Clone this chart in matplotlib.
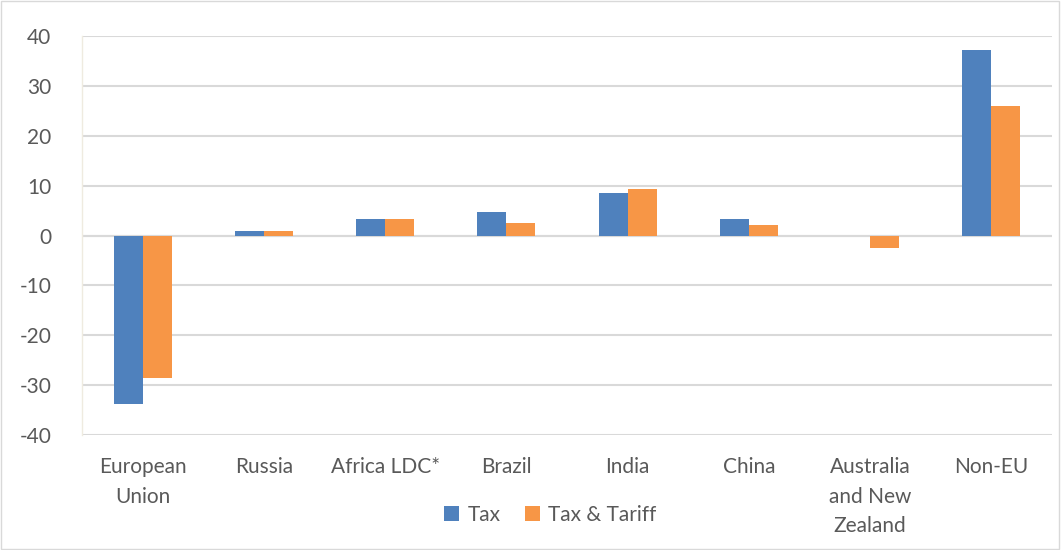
import matplotlib.pyplot as plt
import numpy as np

categories = ["European\nUnion", "Russia", "Africa LDC*", "Brazil", "India",
              "China", "Australia\nand New\nZealand", "Non-EU"]
tax = [-33.8, 1.0, 3.4, 4.7, 8.6, 3.4, 0.0, 37.1]
tax_tariff = [-28.6, 1.0, 3.4, 2.6, 9.4, 2.2, -2.5, 25.9]

plt.rcParams['font.family'] = ['Lato', 'DejaVu Sans']
plt.rcParams['axes.unicode_minus'] = False

fig = plt.figure(figsize=(10.61, 5.5), dpi=100)
ax = fig.add_axes([0.0773, 0.209, 0.9142, 0.7255])

x = np.arange(len(categories))
w = 0.24
ax.bar(x - w / 2, tax, w, color="#4f81bd", label="Tax", zorder=3)
ax.bar(x + w / 2, tax_tariff, w, color="#f79646", label="Tax & Tariff", zorder=3)

ax.set_xlim(-0.5, len(categories) - 0.5)
ax.set_ylim(-40, 40)
ax.set_yticks(range(-40, 41, 10))
ax.grid(axis="y", color="#d9d9d9", linewidth=1.5, zorder=0)
ax.axhline(0, color="#d9d9d9", linewidth=1.5, zorder=2)

for s in ["top", "right", "bottom"]:
    ax.spines[s].set_visible(False)
ax.spines["left"].set_color("#efebe0")
ax.spines["left"].set_linewidth(1.0)

ax.set_xticks(x)
ax.set_xticklabels(categories, linespacing=1.58, va="top")
ax.tick_params(axis="both", length=0, labelsize=15, colors="#595959")
ax.tick_params(axis="x", pad=16)
ax.tick_params(axis="y", pad=22)

ax.legend(loc="center", bbox_to_anchor=(0.483, -0.2), ncol=2, frameon=False,
          fontsize=15, handlelength=0.7, handleheight=0.7, columnspacing=1.2,
          handletextpad=0.4, labelcolor="#595959")

fig.patches.append(plt.Rectangle((0.001, 0.001), 0.997, 0.997, transform=fig.transFigure,
                                 fill=False, edgecolor="#d9d9d9", linewidth=1))

fig.savefig("out.png", dpi=100)
